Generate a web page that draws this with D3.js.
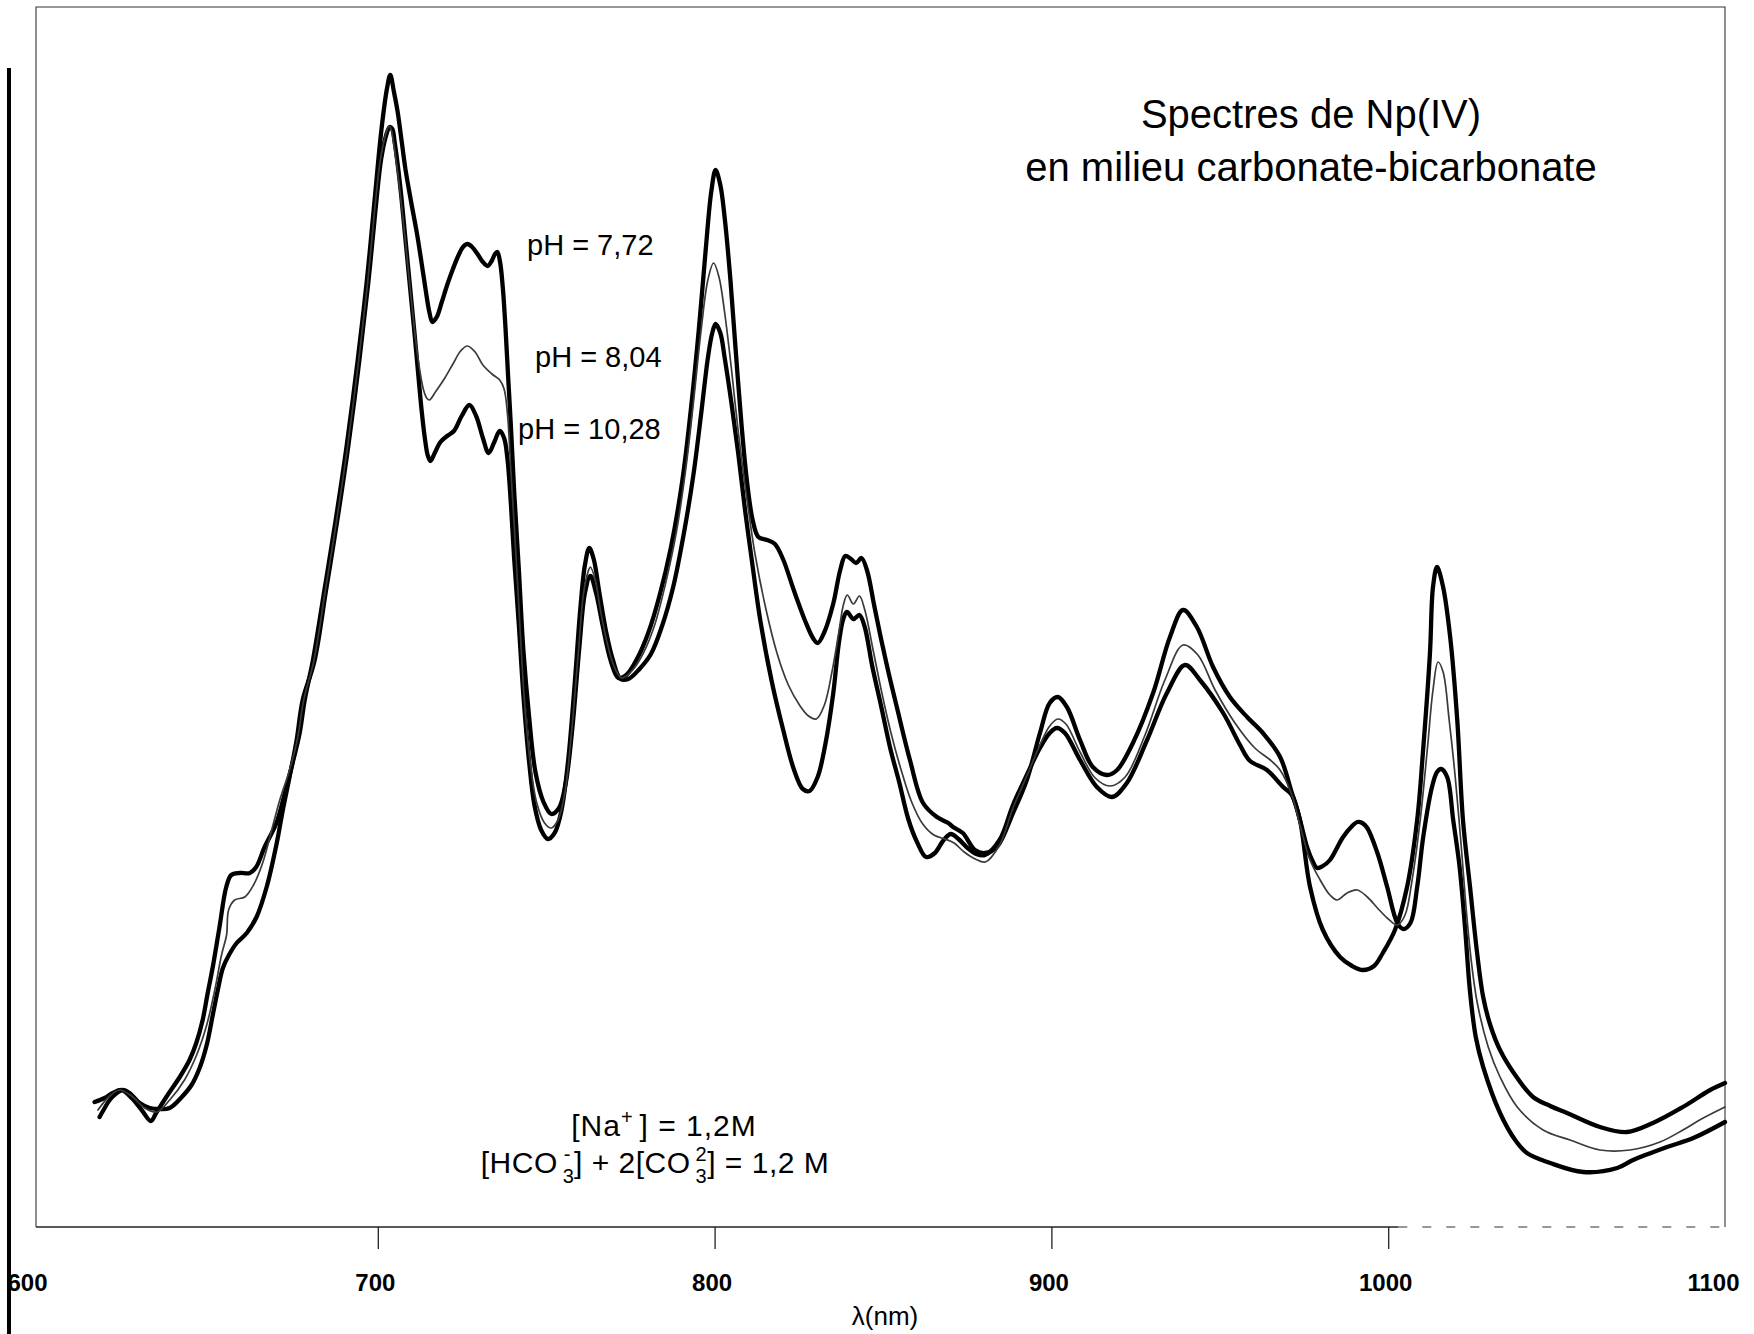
<!DOCTYPE html>
<html>
<head>
<meta charset="utf-8">
<script src="https://cdn.jsdelivr.net/npm/d3@7"></script>
<style>
  html, body { margin: 0; padding: 0; background: #fff; }
  svg { display: block; }
  text { font-family: "Liberation Sans", Arial, Helvetica, sans-serif; fill: #000; }
</style>
</head>
<body>
<svg id="chart" width="1754" height="1334"></svg>
<script>
// Np(IV) absorption spectra in carbonate / bicarbonate medium.
// Each point: [wavelength in nm, absorbance in arbitrary units].
const ph772 = [
  [615.9,0.125],[618.9,0.129],[621.3,0.134],[623.9,0.137],[626.9,0.129],[629.9,0.117],[632.6,0.106],
  [634.2,0.114],[637.2,0.130],[641.2,0.150],[644.1,0.167],[646.1,0.184],[648.0,0.207],[649.5,0.234],
  [651.0,0.260],[653.0,0.300],[655.0,0.340],[656.5,0.352],[659.0,0.354],[662.0,0.354],[663.9,0.360],
  [666.4,0.380],[669.9,0.404],[672.4,0.434],[674.7,0.464],[676.8,0.494],[678.3,0.527],[680.7,0.566],
  [684.1,0.636],[687.4,0.705],[690.7,0.780],[694.0,0.866],[696.7,0.945],[699.0,1.025],[701.0,1.095],
  [702.7,1.138],[703.7,1.152],[704.8,1.135],[705.9,1.115],[707.0,1.088],[708.2,1.058],[709.9,1.025],
  [711.6,0.994],[713.0,0.964],[714.3,0.935],[715.3,0.915],[716.2,0.905],[717.5,0.910],[719.0,0.925],
  [720.6,0.942],[722.3,0.958],[724.0,0.972],[725.3,0.980],[726.6,0.983],[728.0,0.980],[729.6,0.973],
  [731.2,0.965],[732.6,0.961],[733.8,0.966],[734.8,0.973],[735.5,0.975],[736.3,0.965],[737.1,0.940],
  [737.9,0.900],[738.7,0.850],[739.5,0.802],[740.5,0.735],[741.9,0.656],[743.2,0.578],[744.9,0.511],
  [746.8,0.455],[749.2,0.425],[751.5,0.413],[753.8,0.419],[755.8,0.444],[757.8,0.500],[759.8,0.578],
  [761.5,0.634],[763.1,0.651],[764.8,0.634],[766.8,0.601],[769.1,0.567],[771.4,0.549],[773.8,0.552],
  [777.1,0.569],[780.4,0.595],[783.7,0.632],[787.0,0.679],[790.4,0.746],[793.0,0.819],[795.3,0.897],
  [797.3,0.975],[799.0,1.035],[800.3,1.057],[801.7,1.042],[803.0,1.009],[804.7,0.947],[806.3,0.875],
  [808.0,0.802],[809.6,0.746],[811.3,0.707],[813.0,0.690],[815.6,0.687],[817.9,0.683],[820.3,0.668],
  [823.6,0.636],[826.9,0.606],[829.2,0.589],[830.6,0.584],[832.6,0.595],[835.2,0.623],[837.3,0.657],
  [838.8,0.671],[840.5,0.668],[842.0,0.664],[843.6,0.669],[845.3,0.656],[847.3,0.623],[849.3,0.590],
  [851.6,0.555],[854.1,0.520],[858.0,0.467],[861.9,0.424],[866.0,0.410],[869.4,0.404],[870.8,0.400],
  [873.7,0.394],[877.3,0.377],[880.3,0.374],[883.8,0.380],[888.6,0.414],[892.7,0.447],[896.6,0.494],
  [899.5,0.524],[901.9,0.530],[904.6,0.520],[908.5,0.487],[912.3,0.460],[916.5,0.452],[919.5,0.457],
  [924.2,0.484],[930.2,0.534],[935.2,0.590],[939.1,0.617],[943.2,0.600],[948.0,0.560],[953.0,0.530],
  [958.1,0.510],[962.8,0.494],[967.9,0.470],[971.4,0.434],[973.8,0.407],[976.8,0.340],[980.6,0.297],
  [985.7,0.270],[989.3,0.261],[992.5,0.257],[995.8,0.261],[998.4,0.274],[1002.0,0.297],[1005.6,0.340],
  [1008.6,0.407],[1010.3,0.474],[1012.4,0.574],[1013.3,0.640],[1014.5,0.660],[1016.3,0.640],[1018.4,0.590],
  [1020.5,0.507],[1022.2,0.407],[1024.3,0.340],[1026.4,0.274],[1028.2,0.230],[1030.3,0.202],[1033.2,0.177],
  [1037.7,0.152],[1043.0,0.130],[1048.1,0.121],[1053.1,0.114],[1062.9,0.100],[1070.9,0.095],[1078.6,0.104],
  [1087.5,0.120],[1095.6,0.137],[1100.0,0.144]
];

const ph804 = [
  [616.9,0.117],[620.4,0.131],[623.3,0.137],[626.9,0.131],[630.8,0.119],[634.3,0.115],[638.2,0.127],
  [642.6,0.147],[646.2,0.172],[649.2,0.202],[651.6,0.237],[653.6,0.272],[655.1,0.292],[655.7,0.317],
  [657.5,0.327],[660.5,0.330],[663.1,0.342],[665.8,0.364],[668.5,0.397],[670.9,0.427],[673.8,0.457],
  [676.2,0.489],[678.0,0.527],[681.0,0.566],[684.4,0.636],[687.7,0.705],[691.0,0.780],[694.3,0.866],
  [697.0,0.945],[699.2,1.022],[700.8,1.068],[702.3,1.092],[703.3,1.101],[704.0,1.097],[704.5,1.088],
  [705.5,1.065],[706.5,1.038],[707.5,1.008],[708.5,0.975],[709.5,0.942],[710.5,0.910],[711.5,0.880],
  [712.5,0.856],[713.5,0.838],[714.5,0.829],[715.3,0.827],[717.3,0.836],[719.9,0.849],[722.3,0.863],
  [724.6,0.876],[726.6,0.881],[728.9,0.875],[731.2,0.862],[733.9,0.853],[736.2,0.847],[737.5,0.838],
  [738.5,0.813],[739.5,0.757],[740.9,0.679],[742.2,0.601],[743.5,0.528],[745.2,0.466],[747.2,0.424],
  [749.5,0.404],[751.5,0.399],[753.5,0.407],[755.5,0.433],[757.5,0.494],[759.5,0.573],[761.1,0.634],
  [762.5,0.656],[763.1,0.660],[764.5,0.648],[766.1,0.617],[768.1,0.584],[770.1,0.561],[772.4,0.549],
  [775.4,0.556],[778.7,0.573],[782.1,0.601],[785.4,0.643],[788.7,0.696],[791.4,0.757],[793.7,0.824],
  [796.0,0.897],[798.0,0.947],[799.7,0.964],[801.3,0.950],[803.0,0.914],[805.0,0.858],[807.0,0.796],
  [809.3,0.735],[812.0,0.673],[815.3,0.617],[818.6,0.573],[821.9,0.542],[825.2,0.522],[827.9,0.511],
  [830.2,0.508],[832.6,0.522],[834.9,0.556],[836.9,0.595],[838.3,0.623],[839.4,0.632],[841.2,0.623],
  [843.0,0.631],[844.6,0.617],[847.0,0.578],[849.6,0.535],[852.3,0.495],[855.3,0.458],[858.5,0.425],
  [861.8,0.403],[865.1,0.392],[868.4,0.388],[871.1,0.384],[874.1,0.375],[877.4,0.368],[880.4,0.365],
  [884.6,0.382],[888.6,0.419],[892.7,0.451],[896.6,0.482],[899.5,0.501],[901.9,0.508],[904.3,0.503],
  [908.5,0.475],[913.0,0.449],[917.4,0.441],[921.9,0.450],[927.8,0.492],[933.7,0.547],[939.1,0.582],
  [943.5,0.572],[948.6,0.537],[954.5,0.504],[960.4,0.479],[965.0,0.467],[967.9,0.457],[971.4,0.432],
  [973.8,0.402],[976.8,0.367],[979.8,0.347],[982.7,0.332],[984.8,0.327],[987.8,0.334],[990.8,0.337],
  [993.8,0.330],[996.8,0.319],[999.7,0.309],[1002.7,0.302],[1005.0,0.312],[1007.1,0.347],[1009.5,0.407],
  [1011.6,0.477],[1013.3,0.537],[1014.8,0.565],[1016.3,0.555],[1018.1,0.507],[1019.9,0.450],[1021.7,0.380],
  [1023.1,0.320],[1024.6,0.268],[1026.4,0.225],[1029.7,0.180],[1033.2,0.150],[1038.3,0.120],[1046.0,0.097],
  [1054.0,0.087],[1062.9,0.077],[1071.8,0.077],[1080.7,0.085],[1087.5,0.097],[1093.0,0.108],[1100.0,0.120]
];

const ph1028 = [
  [617.4,0.110],[618.9,0.119],[620.4,0.127],[622.5,0.134],[624.2,0.137],[626.3,0.134],[629.3,0.124],
  [632.3,0.119],[635.2,0.118],[638.2,0.119],[641.8,0.130],[644.7,0.142],[647.1,0.159],[649.2,0.182],
  [651.0,0.212],[652.5,0.237],[654.0,0.259],[655.8,0.272],[658.1,0.284],[661.1,0.294],[664.0,0.310],
  [667.0,0.340],[670.0,0.384],[671.8,0.417],[673.8,0.450],[675.9,0.487],[677.7,0.527],[681.2,0.566],
  [684.6,0.636],[687.9,0.705],[691.2,0.780],[694.5,0.866],[697.2,0.945],[699.4,1.020],[701.0,1.068],
  [702.5,1.092],[703.5,1.100],[704.3,1.098],[705.0,1.085],[706.0,1.060],[707.0,1.030],[708.0,0.995],
  [709.0,0.960],[710.0,0.925],[711.0,0.890],[712.0,0.853],[713.0,0.817],[714.0,0.788],[714.8,0.772],
  [715.6,0.766],[716.9,0.774],[718.6,0.785],[720.6,0.791],[722.6,0.796],[724.9,0.811],[727.2,0.822],
  [729.2,0.811],[731.2,0.789],[732.9,0.774],[734.6,0.785],[736.2,0.796],[737.5,0.789],[738.5,0.768],
  [739.5,0.724],[740.5,0.668],[741.9,0.601],[743.2,0.533],[744.9,0.466],[746.5,0.422],[748.5,0.397],
  [750.5,0.388],[752.5,0.394],[754.5,0.416],[756.5,0.466],[758.5,0.545],[760.1,0.617],[761.5,0.662],
  [762.8,0.679],[764.1,0.668],[765.8,0.634],[767.8,0.595],[769.8,0.567],[772.1,0.548],[774.4,0.548],
  [777.7,0.558],[781.1,0.573],[784.4,0.601],[787.7,0.640],[791.0,0.696],[793.7,0.752],[796.0,0.813],
  [798.0,0.869],[799.3,0.894],[800.3,0.903],[801.7,0.894],[803.0,0.869],[805.0,0.824],[807.0,0.774],
  [809.0,0.718],[811.0,0.668],[813.6,0.606],[817.0,0.545],[820.3,0.498],[823.6,0.457],[826.2,0.438],
  [828.2,0.436],[830.6,0.450],[832.9,0.483],[835.2,0.533],[836.9,0.584],[838.2,0.608],[839.3,0.615],
  [841.2,0.608],[843.0,0.612],[844.5,0.601],[846.8,0.561],[849.5,0.520],[852.2,0.478],[854.8,0.445],
  [857.5,0.408],[860.1,0.385],[862.8,0.370],[865.4,0.374],[867.8,0.386],[870.1,0.393],[872.4,0.388],
  [875.1,0.379],[877.7,0.373],[880.3,0.372],[884.6,0.387],[888.6,0.422],[892.7,0.452],[896.6,0.479],
  [899.5,0.494],[901.6,0.499],[904.0,0.494],[908.5,0.467],[913.5,0.440],[918.0,0.430],[922.4,0.444],
  [928.4,0.487],[934.3,0.534],[939.7,0.562],[944.1,0.547],[951.0,0.514],[956.0,0.482],[959.0,0.466],
  [964.0,0.457],[968.8,0.440],[971.4,0.432],[973.8,0.407],[975.9,0.380],[977.4,0.367],[978.9,0.359],
  [980.6,0.361],[982.7,0.367],[986.6,0.390],[989.3,0.401],[990.8,0.405],[992.3,0.404],[993.8,0.399],
  [996.8,0.374],[999.7,0.340],[1002.7,0.304],[1004.5,0.298],[1006.6,0.304],[1008.6,0.340],[1010.4,0.390],
  [1013.0,0.440],[1014.5,0.455],[1015.7,0.458],[1017.5,0.450],[1019.3,0.407],[1021.2,0.360],[1022.8,0.300],
  [1024.3,0.235],[1026.0,0.190],[1028.2,0.160],[1033.2,0.114],[1037.7,0.087],[1041.2,0.074],[1048.1,0.064],
  [1057.9,0.055],[1068.0,0.059],[1072.7,0.067],[1082.8,0.080],[1090.6,0.089],[1100.0,0.105]
];

const seriesNames = ["pH = 7,72", "pH = 8,04", "pH = 10,28"];
const xTicks = [600, 700, 800, 900, 1000, 1100];
const titleLines = ["Spectres de Np(IV)", "en milieu carbonate-bicarbonate"];
const xLabel = "\u03bb(nm)";

// ---- layout ----
const svg = d3.select("#chart");
const frame = { left: 36, right: 1725, top: 7, bottom: 1227 };

const x = d3.scaleLinear().domain([600, 1100]).range([41, 1725]);
const y = d3.scaleLinear().domain([0, 1.2]).range([1227, 27]);

// plot frame (thin, as printed)
svg.append("path")
  .attr("d", `M${frame.left},${frame.bottom} V${frame.top} H${frame.right} V${frame.bottom}`)
  .attr("fill", "none").attr("stroke", "#333").attr("stroke-width", 1.1);

// heavy vertical bar at the far left of the page
svg.append("line")
  .attr("x1", 9).attr("x2", 9).attr("y1", 68).attr("y2", 1334)
  .attr("stroke", "#000").attr("stroke-width", 4);

// x axis baseline: solid, then broken towards the right end
svg.append("line")
  .attr("x1", frame.left).attr("x2", x(1003)).attr("y1", frame.bottom).attr("y2", frame.bottom)
  .attr("stroke", "#222").attr("stroke-width", 1.3);
svg.append("line")
  .attr("x1", x(1003)).attr("x2", frame.right).attr("y1", frame.bottom).attr("y2", frame.bottom)
  .attr("stroke", "#333").attr("stroke-width", 1.2).attr("stroke-dasharray", "9 15");

const axis = d3.axisBottom(x).tickValues(xTicks).tickSize(22).tickFormat(d3.format("d"));
const gAxis = svg.append("g").attr("transform", `translate(0,${frame.bottom})`).call(axis);
gAxis.select(".domain").remove();
gAxis.selectAll(".tick line")
  .attr("stroke", "#222").attr("stroke-width", 1.3)
  .attr("display", d => (d === 600 || d === 1100) ? "none" : null);
gAxis.selectAll(".tick text")
  .attr("y", 64).attr("dy", 0)
  .attr("dx", d => d === 600 ? -14 : d === 1100 ? -12 : -3)
  .style("font-family", '"Liberation Sans", Arial, sans-serif')
  .style("font-size", "24px").style("font-weight", "bold").attr("fill", "#000");

svg.append("text")
  .attr("x", 885).attr("y", 1325).attr("text-anchor", "middle")
  .style("font-size", "26px").text(xLabel);

// spectra
const line = d3.line()
  .x(d => x(d[0])).y(d => y(d[1]))
  .curve(d3.curveCatmullRom.alpha(0.5));

const gLines = svg.append("g").attr("fill", "none")
  .attr("stroke-linejoin", "round").attr("stroke-linecap", "round");
gLines.append("path").datum(ph772).attr("d", line)
  .attr("stroke", "#000").attr("stroke-width", 4.3);
gLines.append("path").datum(ph1028).attr("d", line)
  .attr("stroke", "#000").attr("stroke-width", 4.3);
gLines.append("path").datum(ph804).attr("d", line)
  .attr("stroke", "#3a3a3a").attr("stroke-width", 1.7);

// curve labels
const labelPos = [
  { x: 527, y: 255 },
  { x: 535, y: 367 },
  { x: 518, y: 439 }
];
svg.append("g").selectAll("text").data(seriesNames).join("text")
  .attr("x", (d, i) => labelPos[i].x).attr("y", (d, i) => labelPos[i].y)
  .style("font-size", "29px").text(d => d);

// title
const gTitle = svg.append("g").attr("text-anchor", "middle").style("font-size", "40px");
gTitle.append("text").attr("x", 1311).attr("y", 128).text(titleLines[0]);
gTitle.append("text").attr("x", 1311).attr("y", 181).text(titleLines[1]);

// composition of the medium
const note1 = svg.append("text").attr("x", 664).attr("y", 1136)
  .attr("text-anchor", "middle").style("font-size", "30px").style("letter-spacing", "1px");
note1.append("tspan").text("[Na");
note1.append("tspan").attr("dy", -12).style("font-size", "20px").text("+");
note1.append("tspan").attr("dy", 12).attr("dx", 6).text("] = 1,2M");

const note2 = svg.append("text").attr("x", 655).attr("y", 1173)
  .attr("text-anchor", "middle").style("font-size", "30px").style("letter-spacing", "0.5px");
note2.append("tspan").text("[HCO");
note2.append("tspan").attr("dx", 5).attr("dy", 10).style("font-size", "20px").text("3");
note2.append("tspan").attr("dx", -10.5).attr("dy", -22).style("font-size", "20px").text("-");
note2.append("tspan").attr("dx", 3).attr("dy", 12).text("] + 2[CO");
note2.append("tspan").attr("dx", 5).attr("dy", 10).style("font-size", "20px").text("3");
note2.append("tspan").attr("dx", -11.6).attr("dy", -22).style("font-size", "20px").text("2");
note2.append("tspan").attr("dy", 12).text("] = 1,2 M");
</script>
</body>
</html>
